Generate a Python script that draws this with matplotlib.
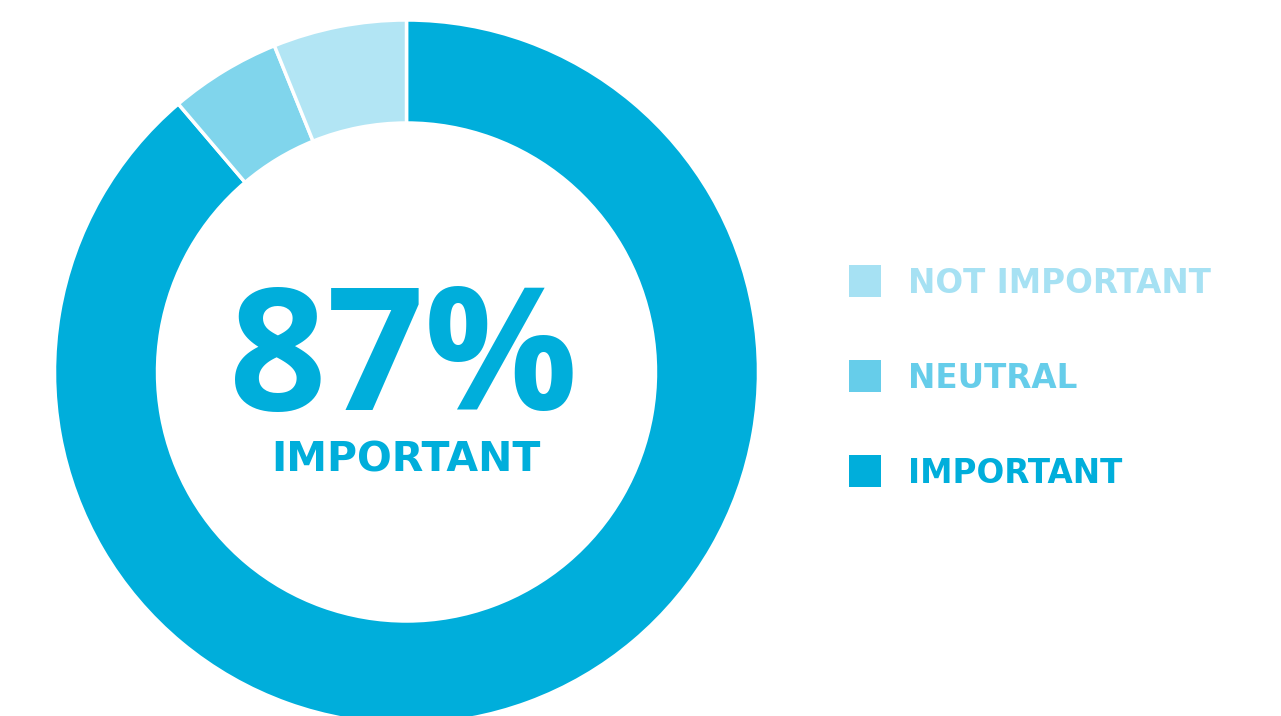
import matplotlib
matplotlib.use('Agg')
import matplotlib.pyplot as plt
from matplotlib.patches import Rectangle

# survey answers, in clockwise order from 12 o'clock
categories = ["IMPORTANT", "NEUTRAL", "NOT IMPORTANT"]
values = [87, 5, 6]
ring_colors = ["#00AEDB", "#80D5EC", "#B2E5F4"]

# legend runs top to bottom
legend_labels = ["NOT IMPORTANT", "NEUTRAL", "IMPORTANT"]
legend_colors = ["#A6E1F3", "#66CDEA", "#00AEDB"]

headline = "87%"
headline_label = "IMPORTANT"

W, H = 1281, 716
fig = plt.figure(figsize=(W / 100, H / 100), dpi=100)
ax = fig.add_axes([0, 0, 1, 1])

cx, cy = 406.5, H - 372
r_out, r_in = 352, 249

ax.pie(values, colors=ring_colors, startangle=90, counterclock=False,
       center=(cx, cy), radius=r_out, frame=True,
       wedgeprops=dict(width=r_out - r_in, edgecolor='white', linewidth=2.5))
ax.set_xlim(0, W)
ax.set_ylim(0, H)
ax.set_aspect('equal')
ax.axis('off')

ax.text(cx - 3, H - 410, headline, ha='center', va='baseline',
        fontsize=123, fontweight='bold', family='Open Sans', color="#00AEDB")
ax.text(cx - 1, H - 472, headline_label, ha='center', va='baseline',
        fontsize=29.5, fontweight='bold', family='DejaVu Sans', color="#00AEDB")

# legend: coloured squares with matching text
sq = 32
for i, (lab, col) in enumerate(zip(legend_labels, legend_colors)):
    yc = H - (281 + i * 95)
    ax.add_patch(Rectangle((849, yc - sq / 2), sq, sq, color=col, lw=0))
    ax.text(908, yc - 12, lab, ha='left', va='baseline', fontsize=23.5,
            fontweight='bold', family='DejaVu Sans', color=col)

fig.savefig("out.png", dpi=100)
